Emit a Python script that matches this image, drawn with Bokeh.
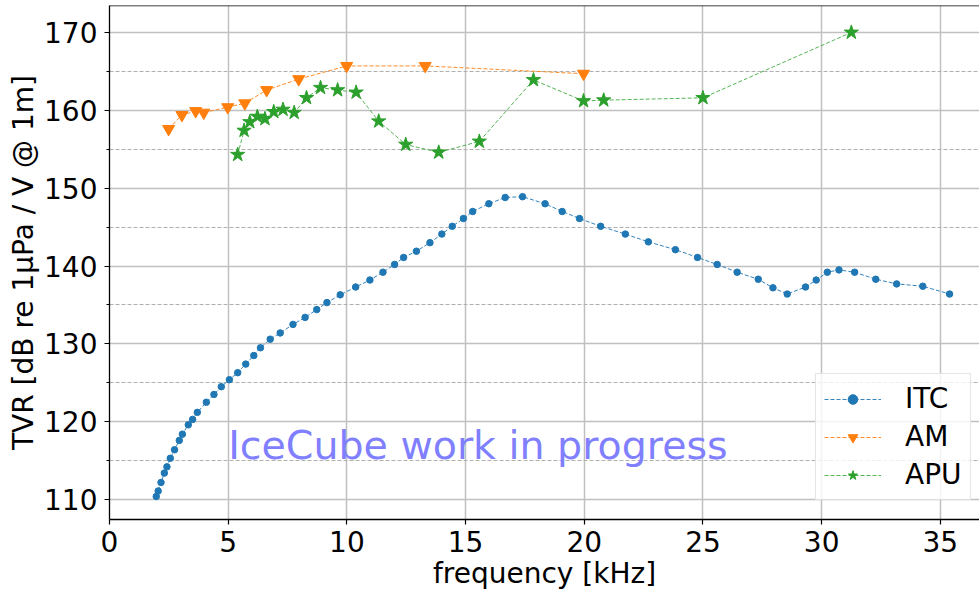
from bokeh.plotting import figure
from bokeh.models import (SingleIntervalTicker, Span, Label, Legend, LegendItem,
                          Range1d, ColumnDataSource)
from bokeh.embed import file_html
from bokeh.resources import INLINE

# ---- data ----
itc_freq = [1.97, 2.05, 2.17, 2.31, 2.42, 2.56, 2.74, 2.94, 3.07, 3.32, 3.50, 3.70,
            4.08, 4.40, 4.71, 5.05, 5.40, 5.74, 6.08, 6.36, 6.77, 7.19, 7.73, 8.24,
            8.73, 9.16, 9.72, 10.37, 10.97, 11.52, 12.01, 12.39, 12.93, 13.50, 14.00,
            14.44, 14.91, 15.30, 15.98, 16.67, 17.40, 18.35, 19.07, 19.80, 20.69,
            21.73, 22.70, 23.84, 24.77, 25.60, 26.44, 27.33, 27.95, 28.55, 29.32,
            29.77, 30.24, 30.73, 31.39, 32.28, 33.16, 34.26, 35.39]
itc_tvr = [110.4, 111.1, 112.2, 113.4, 114.2, 115.3, 116.4, 117.6, 118.4, 119.6, 120.3, 121.2,
           122.5, 123.5, 124.5, 125.4, 126.3, 127.4, 128.5, 129.5, 130.6, 131.4, 132.5, 133.4,
           134.4, 135.3, 136.3, 137.3, 138.2, 139.2, 140.2, 141.1, 141.9, 143.0, 144.1,
           145.1, 146.1, 147.0, 148.0, 148.8, 148.9, 148.0, 147.0, 146.1, 145.1,
           144.1, 143.1, 142.1, 141.1, 140.2, 139.2, 138.3, 137.2, 136.4, 137.3,
           138.2, 139.2, 139.5, 139.2, 138.3, 137.7, 137.4, 136.4]

am_freq = [2.49, 3.05, 3.63, 3.97, 4.98, 5.70, 6.62, 7.97, 9.99, 13.30, 19.97]
am_tvr = [157.6, 159.4, 159.9, 159.7, 160.4, 160.9, 162.6, 164.0, 165.7, 165.7, 164.7]

apu_freq = [5.40, 5.67, 5.91, 6.23, 6.55, 6.92, 7.31, 7.78, 8.30, 8.89, 9.61, 10.39,
            11.34, 12.48, 13.87, 15.58, 17.86, 19.97, 20.82, 25.0, 31.25]
apu_tvr = [154.3, 157.4, 158.5, 159.2, 158.9, 159.8, 160.1, 159.7, 161.6, 162.9, 162.6, 162.3,
           158.6, 155.6, 154.6, 156.0, 163.9, 161.2, 161.3, 161.6, 170.0]

series_names = ["ITC", "AM", "APU"]
colors = ["#1f77b4", "#ff7f0e", "#2ca02c"]
watermark = "IceCube work in progress"
x_title = "frequency [kHz]"
y_title = "TVR [dB re 1μPa / V @ 1m]"

FONT = "DejaVu Sans"
Y_TOP = 173.46

p = figure(width=979, height=593, output_backend="svg", toolbar_location=None,
           x_range=Range1d(0, 36.65), y_range=Range1d(107.44, Y_TOP),
           min_border_left=109, min_border_right=0, min_border_top=5, min_border_bottom=74)
p.outline_line_color = None
p.background_fill_color = "white"

# axes
for ax in (p.xaxis[0], p.yaxis[0]):
    ax.axis_line_color = "black"
    ax.axis_line_width = 1.3
    ax.major_tick_line_color = "black"
    ax.major_tick_line_width = 1.2
    ax.major_tick_out = 5
    ax.major_tick_in = 0
    ax.major_label_text_font = FONT
    ax.major_label_text_font_size = "28px"
    ax.major_label_text_color = "black"
    ax.axis_label_text_font = FONT
    ax.axis_label_text_font_size = "28px"
    ax.axis_label_text_font_style = "normal"
    ax.axis_label_text_color = "black"

p.xaxis.ticker = SingleIntervalTicker(interval=5, num_minor_ticks=0)
p.xaxis.minor_tick_line_color = None
p.xaxis.major_label_text_line_height = 1.0
p.xaxis.axis_label_text_line_height = 1.0
p.xaxis.major_label_standoff = 6
p.xaxis.axis_label = x_title
p.xaxis.axis_label_standoff = 2

p.yaxis.ticker = SingleIntervalTicker(interval=10, num_minor_ticks=2)
p.yaxis.minor_tick_line_color = "black"
p.yaxis.minor_tick_out = 3
p.yaxis.minor_tick_in = 0
p.yaxis.major_label_standoff = 7
p.yaxis.axis_label = y_title
p.yaxis.axis_label_standoff = 1

# grids
p.xgrid.grid_line_color = "#c0c0c0"
p.xgrid.grid_line_width = 1.5
p.ygrid.grid_line_color = "#c0c0c0"
p.ygrid.grid_line_width = 1.5
p.ygrid.minor_grid_line_color = "#b0b0b0"
p.ygrid.minor_grid_line_width = 1
p.ygrid.minor_grid_line_dash = "4 2"

# top spine
p.add_layout(Span(location=Y_TOP, dimension="width", line_color="black", line_width=1.5))

# data
src_itc = ColumnDataSource(dict(x=itc_freq, y=itc_tvr))
src_am = ColumnDataSource(dict(x=am_freq, y=am_tvr))
src_apu = ColumnDataSource(dict(x=apu_freq, y=apu_tvr))

l1 = p.line("x", "y", source=src_itc, line_color=colors[0], line_width=1, line_dash="4 2", line_alpha=0.9)
m1 = p.scatter("x", "y", source=src_itc, marker="circle", size=6.5, fill_color=colors[0], line_color=colors[0])

l2 = p.line("x", "y", source=src_am, line_color=colors[1], line_width=1, line_dash="4 2", line_alpha=0.9)
m2 = p.scatter("x", "y", source=src_am, marker="inverted_triangle", size=12, fill_color=colors[1], line_color=colors[1])

l3 = p.line("x", "y", source=src_apu, line_color=colors[2], line_width=1, line_dash="4 2", line_alpha=0.8)
m3 = p.scatter("x", "y", source=src_apu, marker="star", size=15, fill_color=colors[2], line_color=colors[2])

p.add_layout(Label(x=5, y=117.0, text=watermark, text_font=FONT, text_font_size="39.5px",
                   text_color="#7f7fff", text_baseline="alphabetic"))

legend = Legend(items=[LegendItem(label=series_names[0], renderers=[l1, m1]),
                       LegendItem(label=series_names[1], renderers=[l2, m2]),
                       LegendItem(label=series_names[2], renderers=[l3, m3])],
                location=(706, 19))
legend.label_text_font = FONT
legend.label_text_font_size = "28px"
legend.label_text_color = "black"
legend.glyph_width = 57
legend.glyph_height = 24
legend.label_height = 28
legend.label_standoff = 24
legend.spacing = 5
legend.padding = 8
legend.margin = 0
legend.border_line_color = "#cccccc"
legend.border_line_width = 1
legend.background_fill_color = "white"
legend.background_fill_alpha = 0.8
p.add_layout(legend)

open("out.html", "w").write(file_html(p, INLINE))
